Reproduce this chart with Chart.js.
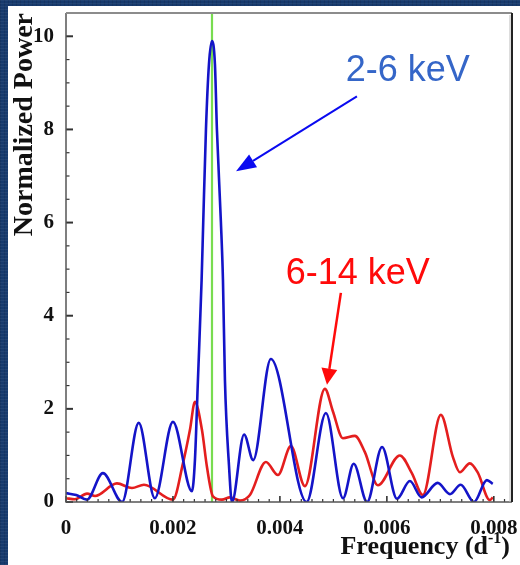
<!DOCTYPE html>
<html>
<head>
<meta charset="utf-8">
<script src="https://cdn.jsdelivr.net/npm/chart.js@4.4.1/dist/chart.umd.min.js"></script>
<style>
  html, body { margin: 0; padding: 0; }
  body {
    width: 520px; height: 565px; overflow: hidden;
    background-color: #173a6d;
    background-image:
      repeating-linear-gradient(0deg, rgba(255,255,255,0.05) 0 1px, transparent 1px 3px),
      repeating-linear-gradient(90deg, rgba(0,0,0,0.10) 0 1px, transparent 1px 4px);
  }
  #panel { position: absolute; left: 8px; top: 6px; width: 512px; height: 559px; background: #fff; }
</style>
</head>
<body>
<div id="panel"><canvas id="psd" width="512" height="559"></canvas></div>
<script>
// periodogram, 2-6 keV band
const freqSoft = [0, 0.00019, 0.00039, 0.00069, 0.00105, 0.00136, 0.00166, 0.00200, 0.002355, 0.002411,
  0.002467, 0.002536, 0.002566, 0.002617, 0.002673, 0.002729, 0.002785, 0.002822, 0.002897, 0.002935,
  0.002972, 0.003047, 0.003103, 0.00333, 0.00350, 0.00383, 0.00450, 0.00486, 0.00518, 0.00538,
  0.00563, 0.00591, 0.00619, 0.00643, 0.00665, 0.00695, 0.00718, 0.00738, 0.00763, 0.00787,
  0.00798];
const powerSoft = [0.19, 0.15, 0.05, 0.62, 0.0, 1.70, 0.08, 1.72, 0.23, 0.9,
  2.62, 4.77, 6.0, 8.0, 9.4, 9.9, 9.4, 8.0, 6.0, 4.77,
  2.62, 0.8, 0.0, 1.45, 0.9, 3.07, 0.0, 1.91, 0.08, 0.82,
  0.0, 1.18, 0.07, 0.45, 0.10, 0.41, 0.17, 0.37, 0.0, 0.47,
  0.39];

// periodogram, 6-14 keV band
const freqHard = [0, 0.000168, 0.000393, 0.000542, 0.000953, 0.001234, 0.001458, 0.00200,
  0.002187, 0.002318, 0.002411, 0.002542, 0.002636, 0.002748, 0.002916, 0.003065, 0.003252, 0.003439,
  0.003738, 0.003963, 0.004206, 0.004467, 0.004841, 0.004990, 0.005178, 0.005402,
  0.005589, 0.005832, 0.006243, 0.006467, 0.006673, 0.007009, 0.007234, 0.007364, 0.007551,
  0.007701, 0.007925, 0.007981];
const powerHard = [0.08, 0.06, 0.18, 0.13, 0.40, 0.30, 0.37, 0.05,
  0.83, 1.55, 2.15, 1.55, 0.75, 0.12, 0.05, 0.10, 0.03, 0.15,
  0.86, 0.58, 1.20, 0.34, 2.43, 1.95, 1.37, 1.42,
  1.07, 0.36, 1.00, 0.62, 0.15, 1.87, 0.97, 0.64, 0.83,
  0.63, 0.04, 0.10];

const markerFreq = 0.00273;
const xTicks = [0, 0.002, 0.004, 0.006, 0.008];
const xTickLabels = ['0', '0.002', '0.004', '0.006', '0.008'];
const yTicks = [0, 2, 4, 6, 8, 10];
const xMax = 0.00834, yMax = 10.5;

const serif = '"Liberation Serif", "Times New Roman", serif';
const sans = '"Liberation Sans", Arial, sans-serif';

const pts = (xs, ys) => xs.map((v, i) => ({ x: v, y: ys[i] }));

function arrow(ctx, x0, y0, x1, y1, color, len, wid, lw) {
  const ang = Math.atan2(y1 - y0, x1 - x0);
  const bx = x1 - len * Math.cos(ang), by = y1 - len * Math.sin(ang);
  ctx.strokeStyle = color;
  ctx.fillStyle = color;
  ctx.lineWidth = lw;
  ctx.beginPath();
  ctx.moveTo(x0, y0);
  ctx.lineTo(bx, by);
  ctx.stroke();
  ctx.beginPath();
  ctx.moveTo(x1, y1);
  ctx.lineTo(bx + wid / 2 * Math.sin(ang), by - wid / 2 * Math.cos(ang));
  ctx.lineTo(bx - wid / 2 * Math.sin(ang), by + wid / 2 * Math.cos(ang));
  ctx.closePath();
  ctx.fill();
}

const decorations = {
  id: 'decorations',
  afterDatasetsDraw(chart) {
    const { ctx, chartArea: a, scales: { x, y } } = chart;
    ctx.save();

    // inward ticks
    ctx.strokeStyle = '#333';
    for (let v = 0; v <= xMax + 1e-9; v += 0.0002) {
      const px = x.getPixelForValue(v);
      const major = xTicks.some(t => Math.abs(t - v) < 1e-7);
      ctx.lineWidth = major ? 1.6 : 1.2;
      ctx.beginPath();
      ctx.moveTo(px, a.bottom);
      ctx.lineTo(px, a.bottom - (major ? 6 : 3));
      ctx.stroke();
    }
    for (let v = 0; v <= yMax + 1e-9; v += 0.5) {
      const py = y.getPixelForValue(v);
      const major = yTicks.includes(v);
      ctx.lineWidth = major ? 2 : 1.2;
      ctx.beginPath();
      ctx.moveTo(a.left, py);
      ctx.lineTo(a.left + (major ? 7 : 3.5), py);
      ctx.stroke();
    }

    // frame
    ctx.lineWidth = 1.5;
    ctx.strokeStyle = '#555';
    ctx.beginPath();
    ctx.moveTo(a.left, a.top);
    ctx.lineTo(a.left, a.bottom);
    ctx.lineTo(a.right, a.bottom);
    ctx.stroke();
    ctx.strokeStyle = '#8c8c8c';
    ctx.lineWidth = 2;
    ctx.beginPath();
    ctx.moveTo(a.left, a.top);
    ctx.lineTo(a.right, a.top);
    ctx.stroke();
    ctx.strokeStyle = '#222';
    ctx.beginPath();
    ctx.moveTo(a.right, a.top);
    ctx.lineTo(a.right, a.bottom);
    ctx.stroke();
    ctx.strokeStyle = '#bbb';
    ctx.lineWidth = 1;
    ctx.beginPath();
    ctx.moveTo(a.right - 2, a.top + 2);
    ctx.lineTo(a.right - 2, a.bottom);
    ctx.stroke();

    // axis titles
    ctx.fillStyle = '#111';
    ctx.font = 'bold 28px ' + serif;
    ctx.save();
    ctx.translate(24, a.top);
    ctx.rotate(-Math.PI / 2);
    ctx.textAlign = 'right';
    ctx.textBaseline = 'alphabetic';
    ctx.fillText('Normalized Power', 0, 0);
    ctx.restore();

    const big = 'bold 26px ' + serif, small = 'bold 16px ' + serif;
    ctx.font = big;
    const w1 = ctx.measureText('Frequency (d').width;
    const w3 = ctx.measureText(')').width;
    ctx.font = small;
    const w2 = ctx.measureText('-1').width;
    let tx = 502 - (w1 + w2 + w3);
    const base = 548;
    ctx.textAlign = 'left';
    ctx.font = big;
    ctx.fillText('Frequency (d', tx, base);
    ctx.font = small;
    ctx.fillText('-1', tx + w1, base - 11);
    ctx.font = big;
    ctx.fillText(')', tx + w1 + w2, base);

    // band labels and arrows
    ctx.font = '36px ' + sans;
    ctx.textAlign = 'left';
    ctx.fillStyle = '#3566c8';
    ctx.fillText('2-6 keV', x.getPixelForValue(0.00523), y.getPixelForValue(9.03));
    arrow(ctx, x.getPixelForValue(0.00544), y.getPixelForValue(8.71),
      x.getPixelForValue(0.00318), y.getPixelForValue(7.10), '#0a0af0', 20, 15, 2);

    ctx.fillStyle = '#ff0a0a';
    ctx.fillText('6-14 keV', x.getPixelForValue(0.00411), y.getPixelForValue(4.69));
    arrow(ctx, x.getPixelForValue(0.00514), y.getPixelForValue(4.49),
      x.getPixelForValue(0.00488), y.getPixelForValue(2.52), '#ff0a0a', 16, 16, 2.5);

    ctx.restore();
  }
};

Chart.defaults.font.family = serif;

new Chart(document.getElementById('psd'), {
  type: 'line',
  data: {
    datasets: [
      {
        label: '2-6 keV',
        data: pts(freqSoft, powerSoft),
        borderColor: '#1414c8',
        borderWidth: 2.6,
        cubicInterpolationMode: 'monotone',
        pointRadius: 0
      },
      {
        label: '6-14 keV',
        data: pts(freqHard, powerHard),
        borderColor: '#e41e1e',
        borderWidth: 2.6,
        cubicInterpolationMode: 'monotone',
        pointRadius: 0
      },
      {
        label: 'period',
        data: [{ x: markerFreq, y: 0 }, { x: markerFreq, y: yMax }],
        borderColor: '#78dc50',
        borderWidth: 2.2,
        pointRadius: 0
      }
    ]
  },
  options: {
    responsive: false,
    animation: false,
    layout: { padding: { top: 7, right: 8, left: 0, bottom: 0 } },
    plugins: { legend: { display: false }, tooltip: { enabled: false } },
    scales: {
      x: {
        type: 'linear',
        min: 0,
        max: xMax,
        afterBuildTicks: s => { s.ticks = xTicks.map(v => ({ value: v })); },
        afterFit: s => { s.height = 63; s.paddingLeft = 0; s.paddingRight = 0; },
        grid: { display: false },
        border: { display: false },
        ticks: {
          autoSkip: false,
          maxRotation: 0,
          padding: 6,
          color: '#111',
          font: { size: 21, weight: 'bold' },
          callback: (v, i) => xTickLabels[i]
        }
      },
      y: {
        min: 0,
        max: yMax,
        afterBuildTicks: s => { s.ticks = yTicks.map(v => ({ value: v })); },
        afterFit: s => { s.width = 58; s.paddingTop = 0; s.paddingBottom = 0; },
        grid: { display: false },
        border: { display: false },
        ticks: {
          padding: 4,
          color: '#111',
          font: { size: 21, weight: 'bold' }
        }
      }
    }
  },
  plugins: [decorations]
});
</script>
</body>
</html>
